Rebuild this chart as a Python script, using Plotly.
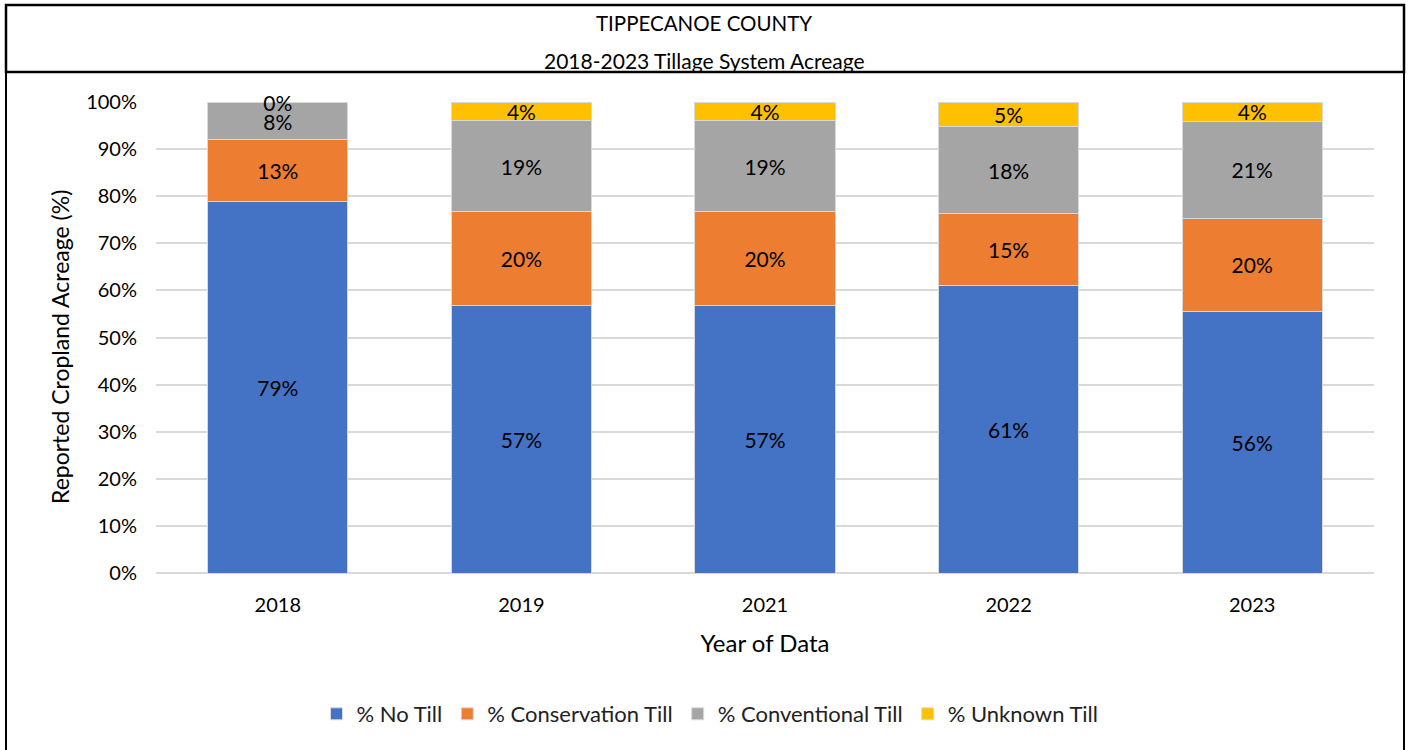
import plotly.graph_objects as go

years = ["2018", "2019", "2021", "2022", "2023"]
no_till = [0.788, 0.569, 0.569, 0.610, 0.556]
conservation_till = [0.133, 0.198, 0.198, 0.153, 0.197]
conventional_till = [0.077, 0.194, 0.194, 0.184, 0.206]
unknown_till = [0.002, 0.039, 0.039, 0.053, 0.041]

series = [
    ("% No Till", no_till, "#4472C4"),
    ("% Conservation Till", conservation_till, "#ED7D31"),
    ("% Conventional Till", conventional_till, "#A5A5A5"),
    ("% Unknown Till", unknown_till, "#FFC000"),
]

FONT = "Lato"
W, H = 1409, 750
L, R, T, B = 156, 1374, 102, 573


def px(x):
    return (x - L) / (R - L)


def py(y):
    return (B - y) / (B - T)


fig = go.Figure()
for name, vals, color in series:
    fig.add_trace(go.Bar(
        x=years, y=vals, name=name,
        marker=dict(color=color, line=dict(color="#D9D9D9", width=1)),
        texttemplate="%{y:.0%}", textposition="inside",
        insidetextanchor="middle", textangle=0, cliponaxis=False,
        textfont=dict(family=FONT, size=21, color="black"),
        hoverinfo="skip",
    ))

shapes = [
    dict(type="rect", xref="paper", yref="paper",
         x0=px(6), x1=px(1404), y0=py(72), y1=py(5),
         line=dict(color="black", width=2.5)),
    dict(type="line", xref="paper", yref="paper",
         x0=px(6), x1=px(6), y0=py(72), y1=py(752),
         line=dict(color="black", width=2)),
    dict(type="line", xref="paper", yref="paper",
         x0=px(1404), x1=px(1404), y0=py(72), y1=py(752),
         line=dict(color="black", width=2)),
]

annotations = [
    dict(text="TIPPECANOE COUNTY", xref="paper", yref="paper",
         x=px(704), y=py(23), xanchor="center", yanchor="middle", showarrow=False,
         font=dict(family=FONT, size=20.5, color="black")),
    dict(text="2018-2023 Tillage System Acreage", xref="paper", yref="paper",
         x=px(704), y=py(60), xanchor="center", yanchor="middle", showarrow=False,
         font=dict(family=FONT, size=21, color="black")),
    dict(text="Reported Cropland Acreage (%)", xref="paper", yref="paper",
         x=px(60), y=py(347), xanchor="center", yanchor="middle", showarrow=False,
         textangle=-90, font=dict(family=FONT, size=23, color="black")),
]

fig.update_layout(
    barmode="stack",
    bargap=0.425,
    width=W, height=H,
    margin=dict(l=L, r=W - R, t=T, b=H - B, autoexpand=False),
    paper_bgcolor="white", plot_bgcolor="white",
    font=dict(family=FONT, color="black"),
    uniformtext=dict(minsize=21, mode="show"),
    shapes=shapes,
    annotations=annotations,
    showlegend=True,
    legend=dict(orientation="h", x=px(710), xanchor="center", xref="paper",
                y=py(714), yanchor="middle",
                font=dict(family=FONT, size=22, color="#222"),
                itemwidth=30, traceorder="normal"),
    xaxis=dict(title=dict(text="Year of Data", font=dict(family=FONT, size=24), standoff=20),
               tickfont=dict(family=FONT, size=20), showline=False, ticks="",
               ticklabelstandoff=18),
    yaxis=dict(range=[0, 1], dtick=0.1, tickformat=".0%",
               showgrid=True, gridcolor="#D9D9D9", gridwidth=1.5,
               zeroline=True, zerolinecolor="#D9D9D9", zerolinewidth=1.5,
               tickfont=dict(family=FONT, size=20), ticks="", showline=False,
               ticklabelstandoff=18),
)

fig.write_html("out.html", config={"displayModeBar": False},
               post_script="document.body.style.margin='0px';")
